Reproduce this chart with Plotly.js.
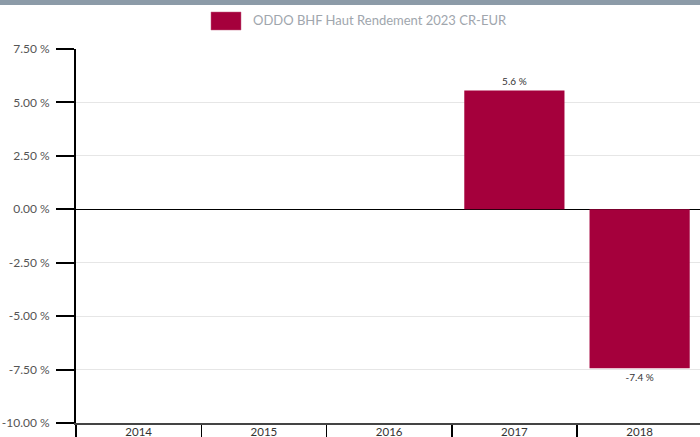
<!DOCTYPE html>
<html>
<head>
<meta charset="utf-8">
<script src="https://cdn.plot.ly/plotly-3.0.1.min.js"></script>
<style>html,body{margin:0;padding:0;background:#fff;}#chart{width:700px;height:437px;}</style>
</head>
<body>
<div id="chart"></div>
<script>
var years = ["2014", "2015", "2016", "2017", "2018"];
var returns = [null, null, null, 5.56, -7.44];
var seriesName = "ODDO BHF Haut Rendement 2023 CR-EUR";
var yTicks = [-10, -7.5, -5, -2.5, 0, 2.5, 5, 7.5];
var barColor = "#a5003c";

var trace = {
  type: "bar",
  x: years,
  y: returns,
  name: seriesName,
  marker: {color: barColor},
  width: 0.8,
  text: returns.map(function(v){ return v === null ? "" : v.toFixed(1) + " %"; }),
  textposition: "outside",
  textfont: {family: "Lato, sans-serif", size: 10, color: "#333"},
  cliponaxis: false,
  hoverinfo: "none",
  showlegend: false
};

// carrier for the boundary tick marks of the category axis (draws nothing)
var tickCarrier = {
  type: "scatter",
  mode: "none",
  x: years,
  y: returns,
  xaxis: "x2",
  yaxis: "y",
  hoverinfo: "none",
  showlegend: false
};

var xRange = [-0.5, 4.482];

var layout = {
  width: 700, height: 437,
  margin: {l: 76, r: 0, t: 49, b: 14, pad: 0},
  paper_bgcolor: "#fff", plot_bgcolor: "#fff",
  font: {family: "Lato, sans-serif", color: "#555"},
  showlegend: false,
  bargap: 0.2,
  xaxis: {
    type: "category",
    categoryarray: years,
    range: xRange,
    ticks: "",
    showgrid: false,
    showline: false,
    zeroline: false,
    tickfont: {size: 11.5, color: "#333"},
    ticklabelstandoff: 0,
    fixedrange: true
  },
  xaxis2: {
    overlaying: "x",
    anchor: "y",
    side: "bottom",
    type: "category",
    categoryarray: years,
    range: xRange,
    tickson: "boundaries",
    ticks: "outside",
    ticklen: 14,
    tickwidth: 1.5,
    tickcolor: "#000",
    showticklabels: false,
    showgrid: false,
    zeroline: false,
    showline: true,
    linecolor: "#444",
    linewidth: 2,
    fixedrange: true
  },
  yaxis: {
    range: [-10, 7.5],
    tickvals: yTicks,
    ticktext: yTicks.map(function(v){ return v.toFixed(2) + " %"; }),
    ticks: "outside",
    ticklen: 18,
    tickwidth: 2,
    tickcolor: "#000",
    showline: true,
    linecolor: "#000",
    linewidth: 2,
    showgrid: true,
    gridcolor: "#e6e6e6",
    gridwidth: 1,
    zeroline: true,
    zerolinecolor: "#000",
    zerolinewidth: 1.5,
    tickfont: {size: 12, color: "#555"},
    ticklabelstandoff: 4,
    fixedrange: true
  },
  shapes: [
    {type: "rect", xref: "paper", yref: "paper", xsizemode: "pixel", ysizemode: "pixel",
     xanchor: 0, yanchor: 1, x0: -76, x1: 630, y0: 44, y1: 50,
     fillcolor: "#8c9ba8", line: {width: 0}},
    {type: "rect", xref: "paper", yref: "paper", xsizemode: "pixel", ysizemode: "pixel",
     xanchor: 0, yanchor: 1, x0: 135, x1: 165, y0: 19, y1: 37,
     fillcolor: barColor, line: {width: 0.5, color: "#c06080"}}
  ],
  annotations: [
    {xref: "paper", yref: "paper", x: (251 - 76) / 624, y: 1, xanchor: "left", yanchor: "middle",
     yshift: 29, showarrow: false, text: seriesName,
     font: {family: "Lato, sans-serif", size: 13, color: "#a0a6ad"}}
  ]
};

Plotly.newPlot("chart", [trace, tickCarrier], layout, {displayModeBar: false, staticPlot: true});
</script>
</body>
</html>
